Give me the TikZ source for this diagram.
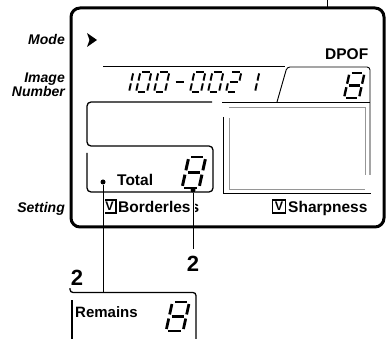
\documentclass[tikz,border=0pt]{standalone}
\usepackage{fontspec}
\setmainfont{Liberation Sans}
\usetikzlibrary{arrows.meta, positioning}
\definecolor{panelgray}{RGB}{150,150,150}

% seven-segment cells: segments a..g in a unit cell
\newcommand\lcdsega{\draw[segline] (0.14,1) -- (0.86,1);}
\newcommand\lcdsegb{\draw[segline] (1,0.93) -- (1,0.57);}
\newcommand\lcdsegc{\draw[segline] (1,0.43) -- (1,0.07);}
\newcommand\lcdsegd{\draw[segline] (0.14,0) -- (0.86,0);}
\newcommand\lcdsege{\draw[segline] (0,0.43) -- (0,0.07);}
\newcommand\lcdsegf{\draw[segline] (0,0.93) -- (0,0.57);}
\newcommand\lcdsegg{\draw[segline] (0.14,0.5) -- (0.86,0.5);}
\expandafter\def\csname lcdmap0\endcsname{a,b,c,d,e,f}
\expandafter\def\csname lcdmap1\endcsname{b,c}
\expandafter\def\csname lcdmap2\endcsname{a,b,g,e,d}
\expandafter\def\csname lcdmap8\endcsname{a,b,c,d,e,f,g}
\expandafter\def\csname lcdmap-\endcsname{g}
% #1 x, #2 baseline, #3 height, #4 width, #5 character
\newcommand\lcddigit[5]{%
  \edef\lcdlist{\csname lcdmap#5\endcsname}%
  \begin{scope}[shift={(#1,#2)}, x={(#4pt,0pt)}, y={({0.22*#3pt},#3pt)},
                segline/.style={line width={0.095*#3pt}}]
    \foreach \s in \lcdlist {\csname lcdseg\s\endcsname}
  \end{scope}}

\begin{document}
\begin{tikzpicture}[x=1pt, y=-1pt,
  frame/.style={line width=3pt, rounded corners=9pt},
  panel/.style={line width=1.3pt, rounded corners=4pt},
  thinline/.style={line width=0.9pt},
  grayline/.style={line width=1pt, panelgray},
  side/.style={font=\fontsize{14}{12.5}\selectfont\bfseries\itshape,
               inner sep=0pt, align=right},
  lcdtext/.style={font=\fontsize{15.5}{18}\selectfont\bfseries, inner sep=0pt},
  callout/.style={font=\fontsize{22}{24}\selectfont\bfseries, inner sep=0pt},
  checkbox/.style={draw, line width=1.2pt, minimum size=13pt, inner sep=0pt,
                   font=\fontsize{12.5}{12.5}\selectfont\bfseries},
  dot/.style={circle, fill, inner sep=0pt, minimum size=5pt},
  leader/.style={line width=1pt}
]
\useasboundingbox (0,0) rectangle (391,339);

% display outline
\coordinate (pintop) at (327,0);
\coordinate (pinframe) at (327,8);
\draw[thinline] (pintop) -- (pinframe);
\draw[frame] (71,8) rectangle (384,227);

\node[side, anchor=base east] (mode) at (65,45) {Mode};
\node[side, anchor=north east] (imgnum) at (65,73) {Image\\Number};
\node[side, anchor=base east] (setting) at (65,213) {Setting};

\fill (87,33) -- (97,40) -- (87,47) -- (89.5,40) -- cycle;

% image number and DPOF field
\draw[thinline] (103,66) -- (285,66);
\draw[thinline, rounded corners=3pt] (277,102) -- (287,67) -- (370,67) -- (370,175);
\draw[thinline] (222,102) -- (370,102);
\node[lcdtext, anchor=base west] (dpof) at (325,60) {DPOF};
\foreach \i/\digitchar in {0/1, 1/0, 2/0, 3/-, 4/0, 5/0, 6/2, 7/1}
  \lcddigit{118+18*\i}{92}{20}{11}{\digitchar};
\lcddigit{344}{98}{25}{15}{8}

% picture area
\draw[thinline] (223,117) -- (223,193) -- (371,193);
\draw[grayline] (229,118) -- (229,190) -- (365,190);
\draw[grayline] (229,108) -- (365,108) -- (365,175);

% message and total panels
\draw[panel] (212,102) -- (87,102) -- (87,146) -- (213,146) -- (213,192)
  -- (87,192) -- (87,153);
\node[lcdtext, anchor=base west] (total) at (117,186) {Total};
\lcddigit{182}{188}{31}{17}{8}

% settings
\node[checkbox] (bordbox) at (109.5,206.5) {V};
\node[lcdtext, anchor=base west] (borderless) at (118,213) {Borderless};
\node[checkbox] (sharpbox) at (279,206.5) {V};
\node[lcdtext, anchor=base west] (sharpness) at (288,213) {Sharpness};

% remains panel
\draw[panel, rounded corners=3pt] (70,288) -- (70,292.5) -- (196,292.5) -- (196,339);
\draw[panel] (72,339) -- (72,300);
\node[lcdtext, font=\fontsize{15}{18}\selectfont\bfseries, anchor=base west]
  (remains) at (75,317) {Remains};
\lcddigit{166}{331}{29}{17}{8}

% callouts
\node[dot] (totaldot) at (103,182) {};
\node[dot] (digitdot) at (193,190) {};
\coordinate (remtop) at (103,292.5);
\node[callout, anchor=base] (twoleft) at (77,285) {2};
\node[callout, anchor=base] (tworight) at (193,272) {2};
\draw[leader, preaction={draw=white, line width=4pt, shorten <=12pt, shorten >=72pt}]
  (totaldot) -- (remtop);
\draw[leader, shorten >=7pt,
      preaction={draw=white, line width=4pt, shorten <=4pt, shorten >=36pt}]
  (digitdot) -- (tworight.north);

\end{tikzpicture}
\end{document}
